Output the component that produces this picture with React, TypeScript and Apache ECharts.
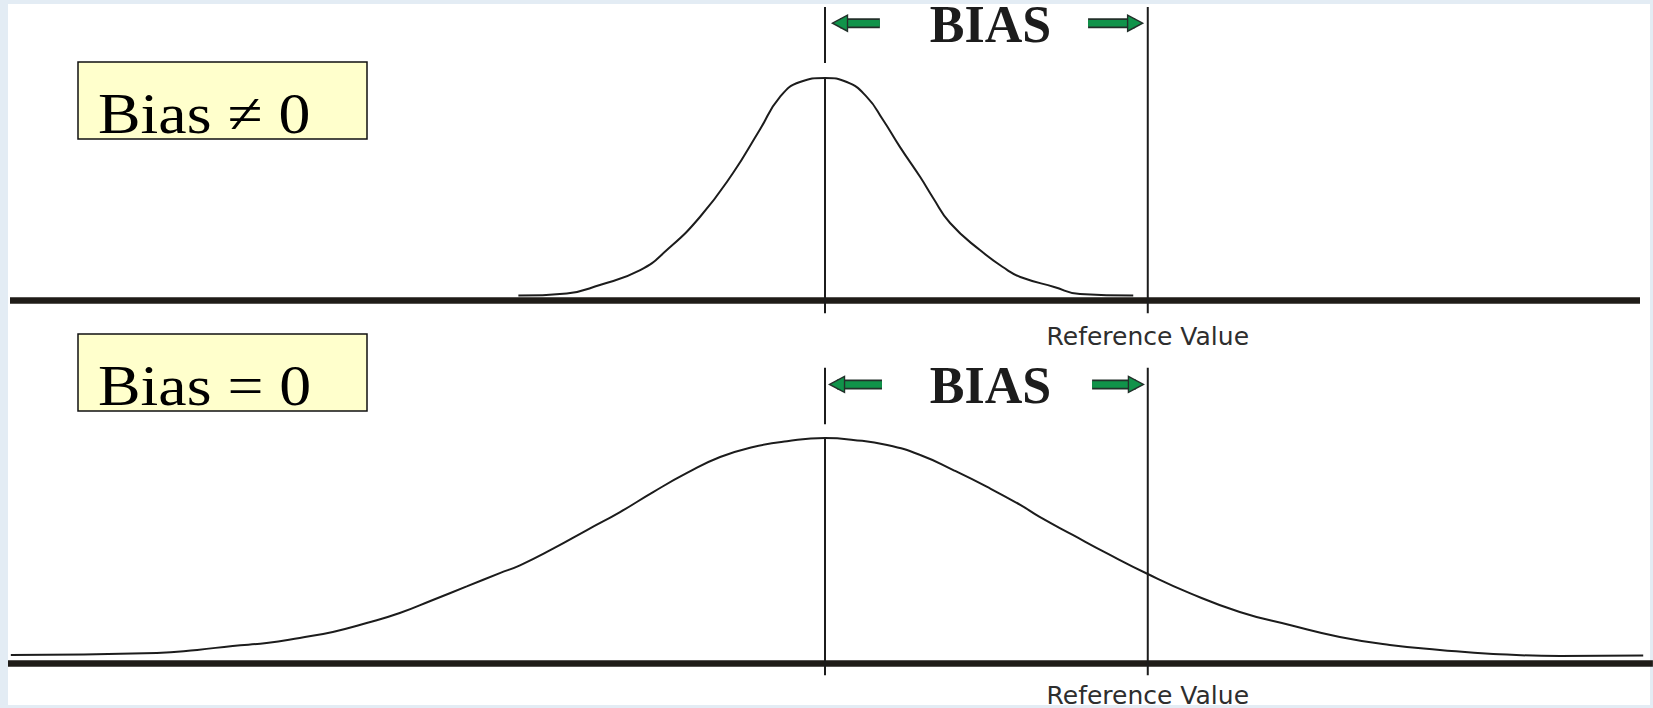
import { useEffect, useRef } from "react";
import * as echarts from "echarts";

// Measured value (mean of the measurements at 0) and the reference value.
const meanValue = 0;
const referenceValue = 4;

// Upper panel, Bias ≠ 0: narrow distribution of measurements (relative height).
const biasedX = [-3.8, -3.2, -2.79, -2.29, -1.96, -1.55, -1.14, -0.81, -0.56, -0.31, 0, 0.27, 0.52, 0.72, 0.93, 1.18, 1.34, 1.55, 1.92, 2.26, 2.42, 2.84, 3.16, 3.82];
const biasedY = [0.02, 0.03, 0.068, 0.135, 0.225, 0.374, 0.572, 0.766, 0.914, 0.982, 1.0, 0.982, 0.914, 0.811, 0.689, 0.554, 0.46, 0.347, 0.225, 0.135, 0.104, 0.059, 0.027, 0.02];

// Lower panel, Bias = 0: wide distribution of measurements (relative height).
const unbiasedX = [-10.09, -8.28, -7.78, -7.34, -6.92, -6.51, -6.1, -5.68, -5.27, -4.86, -4.44, -4.03, -3.78, -3.37, -2.95, -2.54, -2.13, -1.71, -1.3, -0.89, -0.47, 0, 0.35, 0.77, 1.18, 1.59, 2.01, 2.42, 2.66, 3.07, 3.49, 4.0, 4.52, 5.14, 5.76, 6.38, 7.0, 7.62, 8.28, 9.11, 10.14];
const unbiasedY = [0.036, 0.045, 0.059, 0.077, 0.09, 0.113, 0.14, 0.18, 0.225, 0.284, 0.345, 0.405, 0.44, 0.515, 0.599, 0.68, 0.77, 0.856, 0.928, 0.973, 0.999, 1.013, 1.005, 0.982, 0.937, 0.869, 0.793, 0.712, 0.658, 0.577, 0.495, 0.401, 0.315, 0.23, 0.171, 0.117, 0.081, 0.059, 0.041, 0.032, 0.034];

// Panel captions and axis label.
const panelTitles = ["Bias \u2260 0", "Bias = 0"];
const biasText = "BIAS";
const referenceLabel = "Reference Value";

const INK = "#1c1c1c";
const BASE = "#1f1c18";
const GREEN = "#10934a";
const SERIF = '"Liberation Serif", "Times New Roman", "DejaVu Serif", serif';

type Panel = {
  xs: number[];
  ys: number[];
  peak: number;
  yMin: number;
  yMax: number;
  tickBottom: number;
  gapTop: number;
  arrowY: number;
  arrowLeft: [number, number];
  arrowRight: [number, number];
  labelY: number;
  labelMargin: number;
};

const panels: Panel[] = [
  {
    xs: biasedX, ys: biasedY, peak: 1.0, yMin: -0.06, yMax: 1.32, tickBottom: -0.06, gapTop: 1.068,
    arrowY: 1.247, arrowLeft: [0.68, 0.186], arrowRight: [3.26, 3.843], labelY: 1.239, labelMargin: 14,
  },
  {
    xs: unbiasedX, ys: unbiasedY, peak: 1.013, yMin: -0.06, yMax: 1.33, tickBottom: -0.055, gapTop: 1.076,
    arrowY: 1.255, arrowLeft: [0.706, 0.149], arrowRight: [3.31, 3.853], labelY: 1.252, labelMargin: 10,
  },
];

const lineSeries = (idx: number, data: number[][], width: number, color: string, extra: object = {}) => ({
  type: "line",
  xAxisIndex: idx,
  yAxisIndex: idx,
  data,
  symbol: "none",
  silent: true,
  lineStyle: { width, color, cap: "butt" },
  ...extra,
});

function buildSeries() {
  const out: any[] = [];
  panels.forEach((p, i) => {
    // distribution curve
    out.push(lineSeries(i, p.xs.map((x, k) => [x, p.ys[k]]), 2, INK, { smooth: 0.5 }));
    // mean line (interrupted below the BIAS arrow) and reference line
    out.push(lineSeries(i, [[meanValue, p.tickBottom], [meanValue, p.peak]], 2, INK));
    out.push(lineSeries(i, [[meanValue, p.gapTop], [meanValue, p.yMax]], 2, INK));
    out.push(lineSeries(i, [[referenceValue, p.tickBottom], [referenceValue, p.yMax]], 2, INK));
    // BIAS arrows: dark outline under a green shaft, triangular heads
    [
      { pts: p.arrowLeft, head: "path://M0,5 L10,0 L10,10 Z" },
      { pts: p.arrowRight, head: "path://M10,5 L0,0 L0,10 Z" },
    ].forEach(({ pts, head }) => {
      const data = [[pts[0], p.arrowY], [pts[1], p.arrowY]];
      out.push(lineSeries(i, data, 10, "#22302a"));
      out.push({
        type: "line",
        xAxisIndex: i,
        yAxisIndex: i,
        silent: true,
        lineStyle: { width: 6.5, color: GREEN, cap: "butt" },
        data: [
          { value: data[0], symbol: "none" },
          {
            value: data[1],
            symbol: head,
            symbolSize: [15, 16],
            symbolKeepAspect: false,
            itemStyle: { color: GREEN, borderColor: "#22302a", borderWidth: 1.4 },
          },
        ],
      });
    });
    // BIAS caption between the mean and the reference value
    out.push({
      type: "line",
      xAxisIndex: i,
      yAxisIndex: i,
      silent: true,
      symbol: "rect",
      symbolSize: 1,
      lineStyle: { width: 0, opacity: 0 },
      itemStyle: { color: "rgba(0,0,0,0)", opacity: 1 },
      data: [[2.05, p.labelY]],
      label: {
        show: true,
        position: "inside",
        formatter: biasText,
        fontFamily: SERIF,
        fontWeight: "bold",
        fontSize: 52,
        lineHeight: 40,
        color: INK,
        opacity: 1,
      },
    });
  });
  return out;
}

const titleBoxes = (top: number, text: string) => [
  {
    type: "rect",
    z: 10,
    shape: { x: 78, y: top, width: 289, height: 77 },
    style: { fill: "#ffffcc", stroke: "#111", lineWidth: 1.5 },
  },
  {
    type: "text",
    z: 11,
    x: 98,
    y: top + 52,
    scaleX: 1.12,
    style: { text, fontFamily: SERIF, fontSize: 57, fill: "#000", verticalAlign: "middle" },
  },
];

export default function App() {
  const ref = useRef<HTMLDivElement>(null);

  useEffect(() => {
    const chart = echarts.init(ref.current!, undefined, { renderer: "svg" });
    const xAxisCommon = (idx: number, min: number, max: number) => ({
      type: "value",
      gridIndex: idx,
      min,
      max,
      splitLine: { show: false },
      axisTick: { show: false },
      axisLine: { show: true, onZero: true, lineStyle: { width: 6.5, color: BASE, cap: "butt" } },
      axisLabel: {
        show: true,
        customValues: [referenceValue],
        formatter: (v: number) => (Math.abs(v - referenceValue) < 1e-9 ? referenceLabel : ""),
        margin: panels[idx].labelMargin,
        fontFamily: '"DejaVu Sans", sans-serif',
        fontSize: 25,
        lineHeight: 18,
        color: "#2e2e2e",
      },
    });
    chart.setOption({
      animation: false,
      backgroundColor: "#e3ecf4",
      grid: [
        { left: 10, top: 7, width: 1630, height: 306.36 },
        { left: 8, top: 367.74, width: 1644.9, height: 308.58 },
      ],
      xAxis: [xAxisCommon(0, -10.1, 10.1), xAxisCommon(1, -10.125, 10.26)],
      yAxis: panels.map((p, i) => ({
        type: "value",
        gridIndex: i,
        min: p.yMin,
        max: p.yMax,
        show: false,
      })),
      graphic: [
        {
          type: "rect",
          z: -10,
          silent: true,
          shape: { x: 8, y: 4, width: 1642, height: 701 },
          style: { fill: "#ffffff" },
        },
        ...titleBoxes(62, panelTitles[0]),
        ...titleBoxes(334, panelTitles[1]),
      ],
      series: buildSeries(),
    });
    return () => chart.dispose();
  }, []);

  return (
    <div
      ref={ref}
      style={{ position: "fixed", left: 0, top: 0, width: 1653, height: 708 }}
    />
  );
}
